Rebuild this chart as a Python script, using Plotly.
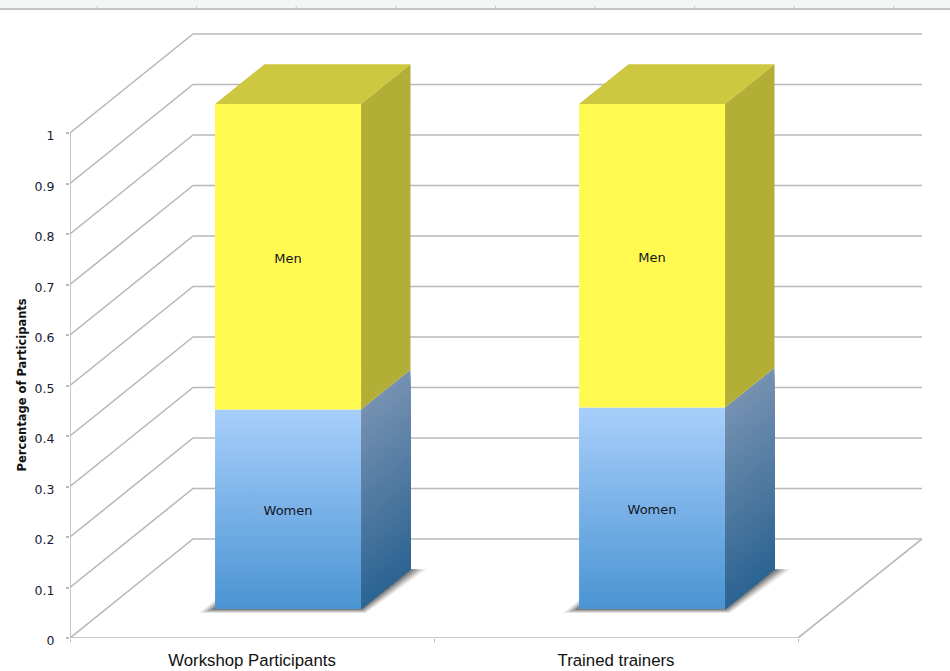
import plotly.graph_objects as go

categories = ["Workshop Participants", "Trained trainers"]
women = [0.395, 0.399]
men = [0.605, 0.601]
y_ticks = [0, 0.1, 0.2, 0.3, 0.4, 0.5, 0.6, 0.7, 0.8, 0.9, 1]
y_tick_labels = ["0", "0.1", "0.2", "0.3", "0.4", "0.5", "0.6", "0.7", "0.8", "0.9", "1"]

W, H = 950, 671
ML, MR, MT, MB = 70, 28, 20, 33
PX_X = 364.0            # pixels per category
PX_Y = 505.0            # pixels per unit of value
XMIN, XEND = -0.5, 1.5
XMAX = XMIN + (W - ML - MR) / PX_X
YMAX = (H - MT - MB) / PX_Y
DX = 123 / PX_X         # full floor depth, in axis units
DY = 99 / PX_Y
BAR_W = 146 / PX_X
D0, D1 = 0.293, 0.695   # bar front and back depth, as a fraction of the floor depth
GRID = "#b9b9b9"
LABEL_DROP = 2.5 / PX_Y  # text sits a little below the geometric middle of each face

fig = go.Figure()


def poly(xs, ys, color=None, gradient=None):
    kw = dict(fillgradient=gradient) if gradient else dict(fillcolor=color)
    fig.add_trace(go.Scatter(x=xs + xs[:1], y=ys + ys[:1], mode="lines", fill="toself",
                             line=dict(width=0), hoverinfo="skip", showlegend=False,
                             cliponaxis=False, **kw))


def line(xs, ys, width=1.6, color=GRID):
    fig.add_trace(go.Scatter(x=xs, y=ys, mode="lines", line=dict(color=color, width=width),
                             hoverinfo="skip", showlegend=False, cliponaxis=False))


def mix(a, b, t):
    return "rgb(%d,%d,%d)" % tuple(round(a[i] + (b[i] - a[i]) * t) for i in range(3))


# walls and floor
for v in y_ticks:
    line([XMIN, XMIN + DX, XMAX], [v, v + DY, v + DY])
line([XMIN, XMIN], [0, 1])
line([XMIN, XEND, XMAX], [0, 0, DY])

SIDE_TOP = (118, 145, 177)
SIDE_BOT = (44, 100, 146)

for i, cat in enumerate(categories):
    w, m = women[i], men[i]
    xl = i - BAR_W / 2 + D0 * DX
    xr = xl + BAR_W
    y0 = D0 * DY
    ddx, ddy = (D1 - D0) * DX, (D1 - D0) * DY
    split = y0 + w
    top = split + m

    # soft floor shadow: layered translucent shapes, widest and faintest first
    for grow, alpha in ((1.0, 0.09), (0.8, 0.13), (0.6, 0.18), (0.4, 0.22), (0.2, 0.26)):
        sx, sy = 16 * grow / PX_X, 4 * grow / PX_Y
        # behind the right side of the bar
        poly([xr, xr + ddx, xr + ddx + sx, xr + 5 * grow / PX_X],
             [y0, y0 + ddy, y0 + ddy, y0 - sy],
             color=f"rgba(40,40,40,{alpha})")
        # left wedge and under the front edge
        poly([xl - sx, xl, xr + 5 * grow / PX_X, xr, xl],
             [y0 - sy, y0 - sy, y0 - sy, y0, y0 + 9 * grow / PX_Y],
             color=f"rgba(40,40,40,{alpha})")

    # women: side face with sheared shading, painted top-down so no seams appear
    steps = 36
    for s in range(steps):
        t = s / steps
        ya = split - w * t
        poly([xr, xr + ddx, xr + ddx, xr],
             [ya, ya + ddy, y0 + ddy, y0],
             color=mix(SIDE_TOP, SIDE_BOT, (s + 0.5) / steps))
    # men: side and top
    poly([xr, xr + ddx, xr + ddx, xr], [split, split + ddy, top + ddy, top], color="#b3ae35")
    poly([xl, xl + ddx, xr + ddx, xr], [top, top + ddy, top + ddy, top], color="#cdc840")
    # front faces
    poly([xl, xr, xr, xl], [y0, y0, split, split],
         gradient=dict(type="vertical", start=y0, stop=split,
                       colorscale=[[0, "#4a94d3"], [1, "#a8cffb"]]))
    poly([xl, xr, xr, xl], [split, split, top, top], color="#fff950")

    # labels
    cx = (xl + xr) / 2
    fig.add_trace(go.Scatter(x=[cx, cx], y=[y0 + w / 2 - LABEL_DROP, split + m / 2 - LABEL_DROP],
                             mode="text", text=["Women", "Men"], textposition="middle center",
                             textfont=dict(family="DejaVu Sans", size=13, color="#15151f"),
                             hoverinfo="skip", showlegend=False, cliponaxis=False))

# strip along the top of the picture, in page coordinates
def px(v):
    return (v - ML) / (W - ML - MR)


def py(v):
    return 1 - (v - MT) / (H - MT - MB)


shapes = [
    dict(type="rect", xref="paper", yref="paper", x0=px(0), x1=px(W), y0=py(8), y1=py(0),
         fillcolor="#f4f6f5", line=dict(width=0), layer="below"),
    dict(type="line", xref="paper", yref="paper", x0=px(0), x1=px(W), y0=py(9), y1=py(9),
         line=dict(color="#c4c4c4", width=2)),
]
for k in range(9):
    shapes.append(dict(type="line", xref="paper", yref="paper", x0=px(97 + 99.6 * k), x1=px(97 + 99.6 * k),
                       y0=py(9), y1=py(6), line=dict(color="#c8c8c8", width=1)))

fig.update_layout(
    width=W, height=H,
    margin=dict(l=ML, r=MR, t=MT, b=MB, autoexpand=False),
    paper_bgcolor="white", plot_bgcolor="white",
    showlegend=False, shapes=shapes,
    xaxis=dict(range=[XMIN, XMAX], showgrid=False, zeroline=False, showline=False,
               tickmode="array", tickvals=[0, 1], ticktext=categories, ticks="",
               ticklabelstandoff=10,
               tickfont=dict(family="Liberation Sans", size=16.8, color="#111111"),
               minor=dict(tickmode="array", tickvals=[XMIN, 0.5, XEND], ticks="outside",
                          ticklen=3, tickcolor=GRID, showgrid=False)),
    yaxis=dict(range=[0, YMAX], showgrid=False, zeroline=False, showline=False,
               tickmode="array", tickvals=y_ticks, ticktext=y_tick_labels,
               ticks="outside", ticklen=3, tickcolor=GRID, tickwidth=1.5,
               ticklabelstandoff=9, ticklabelshift=3,
               tickfont=dict(family="DejaVu Sans", size=12.5, color="#1a1a33")),
    annotations=[dict(text="<b>Percentage of Participants</b>", textangle=-90,
                      xref="paper", x=px(21), xanchor="center", yref="y", y=0.5, showarrow=False,
                      font=dict(family="DejaVu Sans", size=11.5, color="#111111"))],
)

fig.write_html("out.html", config=dict(displayModeBar=False),
               post_script="document.body.style.margin='0';document.documentElement.style.overflow='hidden';")
